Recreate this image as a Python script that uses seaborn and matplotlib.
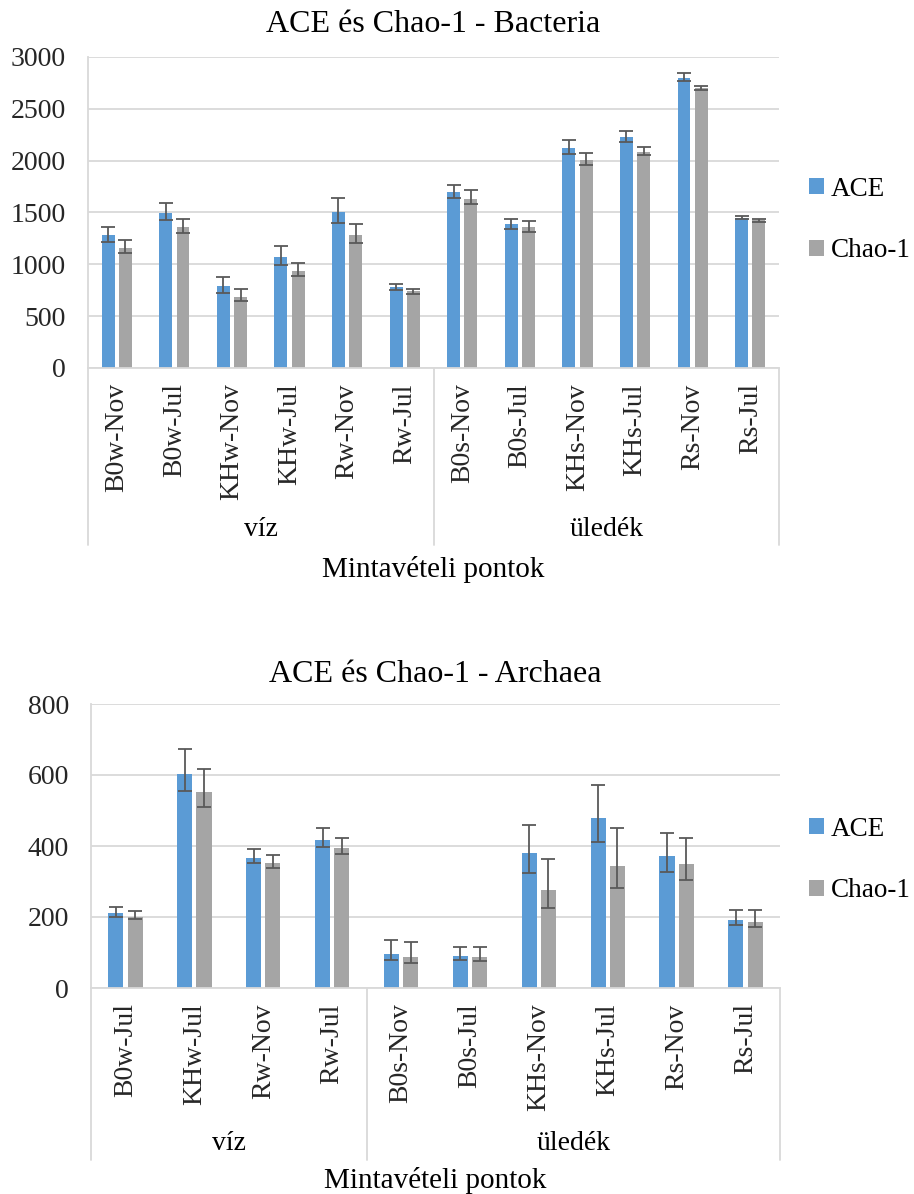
import numpy as np
import pandas as pd
import matplotlib
matplotlib.use("Agg")
import matplotlib.pyplot as plt
import seaborn as sns

# ---------------- data ----------------
bac_samples = ["B0w-Nov", "B0w-Jul", "KHw-Nov", "KHw-Jul", "Rw-Nov", "Rw-Jul",
               "B0s-Nov", "B0s-Jul", "KHs-Nov", "KHs-Jul", "Rs-Nov", "Rs-Jul"]
bac_ace = [1279, 1495, 789, 1070, 1505, 777, 1695, 1386, 2123, 2227, 2800, 1444]
bac_ace_lo = [1215, 1424, 728, 996, 1402, 751, 1640, 1344, 2062, 2178, 2768, 1434]
bac_ace_hi = [1360, 1589, 876, 1173, 1637, 815, 1769, 1434, 2198, 2288, 2842, 1469]
bac_chao = [1160, 1357, 686, 938, 1279, 738, 1630, 1357, 2004, 2085, 2697, 1427]
bac_chao_lo = [1112, 1305, 644, 886, 1202, 715, 1585, 1311, 1959, 2059, 2678, 1411]
bac_chao_hi = [1234, 1437, 760, 1015, 1392, 760, 1714, 1421, 2072, 2130, 2723, 1440]
bac_groups = ["víz", "üledék"]
bac_group_sizes = [6, 6]

arc_samples = ["B0w-Jul", "KHw-Jul", "Rw-Nov", "Rw-Jul",
               "B0s-Nov", "B0s-Jul", "KHs-Nov", "KHs-Jul", "Rs-Nov", "Rs-Jul"]
arc_ace = [210, 604, 366, 417, 97, 89, 380, 480, 371, 191]
arc_ace_lo = [199, 555, 351, 397, 80, 78, 323, 411, 327, 177]
arc_ace_hi = [229, 674, 391, 452, 134, 116, 458, 573, 437, 219]
arc_chao = [200, 553, 352, 393, 86, 86, 275, 344, 349, 187]
arc_chao_lo = [194, 510, 339, 377, 70, 75, 225, 282, 304, 171]
arc_chao_hi = [218, 616, 375, 423, 130, 116, 364, 451, 423, 219]
arc_groups = ["víz", "üledék"]
arc_group_sizes = [4, 6]

series_names = ["ACE", "Chao-1"]
colors = ["#5B9BD5", "#A5A5A5"]

# ---------------- style ----------------
sns.set_style("white")
plt.rcParams["font.family"] = ["Liberation Serif", "DejaVu Serif"]
plt.rcParams["text.color"] = "black"

W, H = 914, 1194
fig = plt.figure(figsize=(W / 100, H / 100), dpi=100)

GRID = "#D9D9D9"
FS = 20


def px_axes(l, t, r, b):
    return fig.add_axes([l / W, 1 - b / H, (r - l) / W, (b - t) / H])


def draw(ax, samples, ace, ace_lo, ace_hi, chao, chao_lo, chao_hi,
         groups, sizes, ymax, ystep, title, width, gap, leg_y, sep_depth,
         grp_y, xt_y, tpad):
    df = pd.DataFrame({
        "sample": samples * 2,
        "value": list(ace) + list(chao),
        "index": [series_names[0]] * len(samples) + [series_names[1]] * len(samples),
    })
    sns.barplot(data=df, x="sample", y="value", hue="index", order=samples,
                hue_order=series_names, palette=colors, width=width, gap=gap,
                errorbar=None, saturation=1, ax=ax, linewidth=0)
    for cont, vals, lo, hi in zip(ax.containers[:2], [ace, chao],
                                  [ace_lo, chao_lo], [ace_hi, chao_hi]):
        xs = [p.get_x() + p.get_width() / 2 for p in cont.patches]
        v = np.array(vals, float)
        yerr = np.vstack([v - np.array(lo, float), np.array(hi, float) - v])
        ax.errorbar(xs, v, yerr=yerr, fmt="none", ecolor="#595959",
                    elinewidth=1.3, capsize=4.7, capthick=1.3, zorder=5)
    n = len(samples)
    ax.set_xlim(-0.5, n - 0.5)
    ax.set_ylim(0, ymax)
    ax.set_yticks(np.arange(0, ymax + 1, ystep))
    ax.yaxis.grid(True, color=GRID, lw=1.3)
    ax.set_axisbelow(True)
    for s in ["top", "right"]:
        ax.spines[s].set_visible(False)
    for s in ["left", "bottom"]:
        ax.spines[s].set_color(GRID)
        ax.spines[s].set_linewidth(1.3)
    ax.tick_params(axis="y", length=0, pad=16, labelsize=FS)
    ax.tick_params(axis="x", length=0, pad=11, labelsize=FS)
    ax.set_xticks(range(n))
    ax.set_xticklabels(samples, rotation=90, va="top", ha="center")
    ax.set_xlabel("")
    ax.set_ylabel("")
    ax.set_title(title, fontsize=23, pad=tpad)
    # multi-level category axis
    tr = ax.get_xaxis_transform()
    edges = [-0.5]
    for s in sizes:
        edges.append(edges[-1] + s)
    for e in edges:
        ax.plot([e, e], [0, -sep_depth], transform=tr, color=GRID, lw=1.3,
                clip_on=False)
    for i, g in enumerate(groups):
        c = (edges[i] + edges[i + 1]) / 2
        ax.text(c, -grp_y, g, transform=tr, ha="center", va="center",
                fontsize=FS)
    ax.text(0.5, -xt_y, "Mintavételi pontok", transform=ax.transAxes,
            ha="center", va="center", fontsize=FS + 1)
    # legend
    h, l = ax.get_legend_handles_labels()
    if ax.get_legend() is not None:
        ax.get_legend().remove()
    fig.legend(h[:2], l[:2], loc="center left", frameon=False, fontsize=19.5,
               bbox_to_anchor=(798 / W, 1 - leg_y / H), handlelength=0.55,
               handleheight=0.55, handletextpad=0.25, labelspacing=1.35,
               borderaxespad=0)


# top chart
ax1 = px_axes(88, 57, 779, 368)
h1 = 368 - 57
draw(ax1, bac_samples, bac_ace, bac_ace_lo, bac_ace_hi, bac_chao, bac_chao_lo,
     bac_chao_hi, bac_groups, bac_group_sizes, 3000, 500,
     "ACE és Chao-1 - Bacteria", 0.6, 0.25, 220,
     (545 - 368) / h1, (530 - 368) / h1, (570 - 368) / h1, 18)

# bottom chart
ax2 = px_axes(91, 704, 780, 988)
h2 = 988 - 704
draw(ax2, arc_samples, arc_ace, arc_ace_lo, arc_ace_hi, arc_chao, arc_chao_lo,
     arc_chao_hi, arc_groups, arc_group_sizes, 800, 200,
     "ACE és Chao-1 - Archaea", 0.56, 0.22, 860,
     (1160 - 988) / h2, (1143 - 988) / h2, (1181 - 988) / h2, 16)

fig.savefig("out.png", dpi=100)
